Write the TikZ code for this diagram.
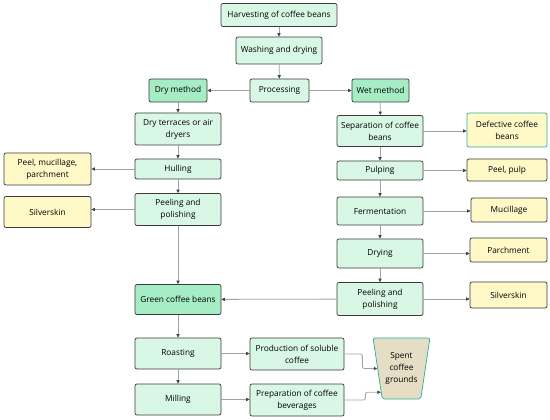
\documentclass[tikz,border=0pt]{standalone}
\usepackage{fontspec}
\setmainfont{Open Sans}
\usepackage{tikz}
\usetikzlibrary{positioning, arrows.meta, shapes.geometric, calc}
\definecolor{mintfill}{HTML}{D9F7E5}
\definecolor{methodfill}{HTML}{A6EDC5}
\definecolor{byfill}{HTML}{FFF9C8}
\definecolor{spentfill}{HTML}{E6DDC5}
\definecolor{edgegray}{HTML}{3A3A3A}
\definecolor{tealedge}{HTML}{2AAE9C}
\definecolor{linegray}{HTML}{9EA3A9}
\definecolor{tipgray}{HTML}{3B4450}
\tikzset{
    procbox/.style={draw=edgegray, line width=0.7pt, rounded corners=2pt, fill=mintfill, inner sep=0pt, align=center, text=black, font=\fontsize{8.3}{12}\selectfont},
    methodbox/.style={procbox, fill=methodfill},
    byprod/.style={procbox, fill=byfill},
    spentbox/.style={draw=tealedge, line width=0.7pt, rounded corners=2pt, fill=spentfill, trapezium, shape border rotate=180, trapezium left angle=76.6, trapezium right angle=76.6, trapezium stretches=true, inner sep=0pt, align=center, text=black, font=\fontsize{8.3}{12}\selectfont},
    flow/.style={-{Triangle[length=3.5pt, width=3.2pt, color=tipgray]}, linegray, line width=0.8pt},
}
\begin{document}
\begin{tikzpicture}[x=1pt, y=-1pt]
    \useasboundingbox (0,0) rectangle (550,420);
    % main line
    \node[procbox, minimum width=116, minimum height=23] (harv) at (279,15)    {Harvesting of coffee beans};
    \node[procbox, minimum width=86, minimum height=27]  (wash) at (279,50.5)  {Washing and drying};
    \node[procbox, minimum width=59, minimum height=23]  (proc) at (279.5,90.5) {Processing};
    \node[methodbox, minimum width=58, minimum height=23] (dry) at (178,90.5)  {Dry method};
    \node[methodbox, minimum width=57, minimum height=23] (wet) at (380.5,90.5) {Wet method};
    % dry method
    \node[procbox, minimum width=86, minimum height=32] (terr) at (178,129)   {Dry terraces or air\\dryers};
    \node[procbox, minimum width=86, minimum height=20] (hull) at (178,169)   {Hulling};
    \node[procbox, minimum width=86, minimum height=32] (pold) at (178,209.5) {Peeling and\\polishing};
    \node[byprod, minimum width=87, minimum height=32]  (pmp)  at (47.5,169)  {Peel, mucillage,\\parchment};
    \node[byprod, minimum width=87, minimum height=31]  (silvl) at (47.5,212) {Silverskin};
    % wet method
    \node[procbox, minimum width=86, minimum height=31] (sep)  at (380,131)   {Separation of coffee\\beans};
    \node[procbox, minimum width=86, minimum height=19] (pulp) at (380,170.5) {Pulping};
    \node[procbox, minimum width=86, minimum height=28] (ferm) at (380,211)   {Fermentation};
    \node[procbox, minimum width=86, minimum height=29] (drying) at (380,253.5) {Drying};
    \node[procbox, minimum width=86, minimum height=33] (polw) at (380,299)   {Peeling and\\polishing};
    \node[byprod, draw=tealedge, minimum width=80, minimum height=34] (defc) at (507,130) {Defective coffee\\beans};
    \node[byprod, minimum width=80, minimum height=22] (ppulp) at (507,170)  {Peel, pulp};
    \node[byprod, minimum width=76, minimum height=24] (muc)   at (509,210)  {Mucillage};
    \node[byprod, minimum width=77, minimum height=24] (parch) at (508.5,250) {Parchment};
    \node[byprod, minimum width=77, minimum height=26] (silvr) at (508.5,295) {Silverskin};
    % green beans and uses
    \node[methodbox, minimum width=86, minimum height=30] (gcb)  at (178,299.5) {Green coffee beans};
    \node[procbox, minimum width=86, minimum height=31] (roast) at (178,353.5) {Roasting};
    \node[procbox, minimum width=86, minimum height=31] (mill)  at (178,399.5) {Milling};
    \node[procbox, minimum width=94, minimum height=32] (sol)   at (297,354)   {Production of soluble\\coffee};
    \node[procbox, minimum width=94, minimum height=32] (bev)   at (297,400)   {Preparation of coffee\\beverages};
    \node[spentbox, minimum width=57, minimum height=61] (spent) at (401.5,368.5) {Spent\\coffee\\grounds};
    % connectors
    \draw[flow] (harv) -- (wash);
    \draw[flow] (wash) -- (proc);
    \draw[flow] (proc) -- (dry);
    \draw[flow] (proc) -- (wet);
    \draw[flow] (dry) -- (terr);
    \draw[flow] (terr) -- (hull);
    \draw[flow] (hull) -- (pold);
    \draw[flow] (hull) -- (pmp);
    \draw[flow] (pold) -- (pold -| silvl.east);
    \draw[flow] (pold) -- (gcb);
    \draw[flow] (wet) -- (sep);
    \draw[flow] (sep) -- (pulp);
    \draw[flow] (pulp) -- (ferm);
    \draw[flow] (ferm) -- (drying);
    \draw[flow] (drying) -- (polw);
    \draw[flow] (sep) -- (sep -| defc.west);
    \draw[flow] (pulp) -- (pulp -| ppulp.west);
    \draw[flow] (ferm) -- (ferm -| muc.west);
    \draw[flow] (drying) -- (drying -| parch.west);
    \draw[flow] (polw) -- (polw -| silvr.west);
    \draw[flow] (polw) -- (gcb);
    \draw[flow] (gcb) -- (roast);
    \draw[flow] (roast) -- (mill);
    \draw[flow] (roast) -- (roast -| sol.west);
    \draw[flow] (mill) -- (mill -| bev.west);
    \draw[flow, rounded corners=2pt] (sol.east) -- ++(18,0) |- (spent.west);
    \draw[flow, rounded corners=2pt] (bev.east) -- ++(21,0) |- (spent.229);
\end{tikzpicture}
\end{document}
